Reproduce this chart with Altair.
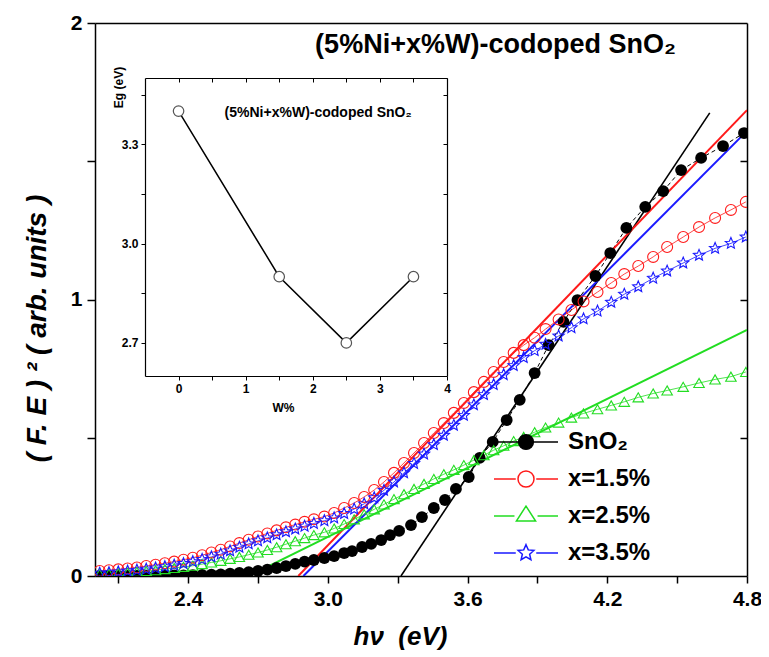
import math
import altair as alt
import pandas as pd

FONT = "Liberation Sans"
NB = "\u00a0"

# ------------------------------------------------------------------ data
series_names = ["SnO₂", "x=1.5%", "x=2.5%", "x=3.5%"]
series_colors = ["#000000", "#ff1a1a", "#22dd22", "#1a1aff"]

sno2_E = [2.02, 2.06, 2.10, 2.14, 2.18, 2.22, 2.26, 2.30, 2.34, 2.38, 2.42, 2.46,
          2.50, 2.54, 2.58, 2.62, 2.66, 2.70, 2.74, 2.78, 2.82, 2.86, 2.90, 2.94,
          2.985, 3.027, 3.070, 3.104, 3.147, 3.186, 3.229, 3.267, 3.306, 3.357,
          3.404, 3.455, 3.503, 3.550, 3.605, 3.652, 3.708, 3.768, 3.824, 3.888,
          3.948, 4.012, 4.072, 4.149, 4.213, 4.282, 4.363, 4.440, 4.517, 4.603,
          4.697, 4.787]
sno2_v = [0.000, 0.000, 0.000, 0.000, 0.000, 0.000, 0.001, 0.001, 0.002, 0.002,
          0.003, 0.004, 0.005, 0.006, 0.008, 0.011, 0.014, 0.018, 0.023, 0.029,
          0.036, 0.044, 0.052, 0.058, 0.065, 0.072, 0.083, 0.090, 0.105, 0.116,
          0.130, 0.148, 0.163, 0.184, 0.213, 0.246, 0.275, 0.315, 0.358, 0.427,
          0.485, 0.564, 0.637, 0.734, 0.835, 0.919, 0.998, 1.085, 1.168, 1.259,
          1.335, 1.392, 1.468, 1.512, 1.555, 1.602]

doped_E = [2.02, 2.06, 2.10, 2.14, 2.18, 2.22, 2.26, 2.30, 2.34, 2.38, 2.42, 2.46,
           2.50, 2.54, 2.58, 2.62, 2.66, 2.70, 2.74, 2.78, 2.82, 2.86, 2.90, 2.94,
           2.985, 3.027, 3.070, 3.113, 3.156, 3.199, 3.241, 3.284, 3.327, 3.370,
           3.413, 3.455, 3.498, 3.541, 3.584, 3.627, 3.670, 3.712, 3.755, 3.798,
           3.841, 3.888, 3.935, 3.991, 4.046, 4.098, 4.158, 4.217, 4.273, 4.333,
           4.397, 4.457, 4.526, 4.594, 4.663, 4.731, 4.795]
x15_v = [0.018, 0.021, 0.024, 0.027, 0.031, 0.036, 0.041, 0.046, 0.052, 0.059,
         0.066, 0.075, 0.085, 0.095, 0.107, 0.119, 0.131, 0.143, 0.154, 0.165,
         0.176, 0.186, 0.196, 0.205, 0.215, 0.228, 0.246, 0.264, 0.286, 0.311,
         0.340, 0.373, 0.409, 0.445, 0.481, 0.517, 0.553, 0.590, 0.626, 0.665,
         0.702, 0.738, 0.774, 0.807, 0.835, 0.862, 0.893, 0.928, 0.962, 0.993,
         1.027, 1.060, 1.092, 1.121, 1.154, 1.190, 1.226, 1.262, 1.295, 1.324,
         1.353]
x25_v = [0.007, 0.008, 0.010, 0.012, 0.015, 0.018, 0.021, 0.025, 0.029, 0.033,
         0.037, 0.043, 0.049, 0.055, 0.062, 0.069, 0.077, 0.085, 0.094, 0.104,
         0.115, 0.126, 0.137, 0.148, 0.158, 0.172, 0.188, 0.205, 0.223, 0.241,
         0.259, 0.278, 0.296, 0.315, 0.333, 0.351, 0.368, 0.384, 0.401, 0.419,
         0.437, 0.455, 0.471, 0.488, 0.503, 0.520, 0.537, 0.555, 0.573, 0.588,
         0.603, 0.617, 0.630, 0.646, 0.660, 0.671, 0.684, 0.698, 0.711, 0.721,
         0.738]
x35_v = [0.010, 0.012, 0.015, 0.018, 0.021, 0.025, 0.029, 0.034, 0.039, 0.045,
         0.052, 0.060, 0.069, 0.079, 0.091, 0.104, 0.116, 0.127, 0.138, 0.149,
         0.160, 0.170, 0.180, 0.190, 0.200, 0.210, 0.226, 0.242, 0.261, 0.283,
         0.310, 0.340, 0.373, 0.407, 0.441, 0.475, 0.509, 0.545, 0.581, 0.619,
         0.656, 0.692, 0.728, 0.761, 0.790, 0.815, 0.838, 0.868, 0.898, 0.930,
         0.958, 0.990, 1.019, 1.046, 1.077, 1.103, 1.132, 1.160, 1.185, 1.203,
         1.226]

# linear fits (Tauc extrapolation): start on the axis, end point
fit_E0 = [3.314, 2.873, 2.660, 2.895]
fit_E1 = [4.640, 4.800, 4.800, 4.800]
fit_v1 = [1.675, 1.685, 0.890, 1.610]

# inset: band gap vs W content
inset_W = [0.0, 1.5, 2.5, 3.5]
inset_Eg = [3.40, 2.90, 2.70, 2.90]

title_text = "(5%Ni+x%W)-codoped SnO₂"
x_title = f"hν{NB}{NB}(eV)"
y_title = f"({NB}F.{NB}E{NB}){NB}²{NB}({NB}arb.{NB}units{NB})"

# ------------------------------------------------------------------ layout
W, H = 652, 553
IN_X0, IN_X1 = 50, 352      # inset frame (pixels inside the plot area)
IN_Y0, IN_Y1 = 55, 353


def df(E, v):
    return pd.DataFrame({"E": E, "v": v})


def star_path(r_out, r_in):
    pts = []
    for k in range(10):
        r = r_out if k % 2 == 0 else r_in
        a = math.radians(-90 + 36 * k)
        pts.append(f"{r * math.cos(a):.3f},{r * math.sin(a):.3f}")
    return "M" + "L".join(pts) + "Z"


STAR = star_path(1.0, 0.45)


def circ(r):
    return f"M{r},0A{r},{r},0,1,1,{-r},0A{r},{r},0,1,1,{r},0Z"


leg_paths = [
    "M-1,0L-0.2,0M0.2,0L1,0" + circ(0.23),
    "M-1,0L-0.32,0M0.32,0L1,0" + circ(0.25),
    "M-1,0L-0.36,0M0.36,0L1,0M0,-0.31L0.3,0.16L-0.3,0.16Z",
    "M-1,0L-0.32,0M0.32,0L1,0" + star_path(0.26, 0.12),
]
leg_fills = ["#000000", "transparent", "transparent", "transparent"]

axis_common = dict(domainColor="black", domainWidth=1.5, tickColor="black",
                   tickWidth=1.5, labelFont=FONT, labelFontWeight="bold",
                   labelColor="black", titleFont=FONT, titleColor="black",
                   grid=False, labelFlush=False, labelOverlap=False)

xs = alt.Scale(domain=[2.0, 4.8], nice=False, zero=False)
ys = alt.Scale(domain=[0, 2], nice=False, zero=False)


def ex(axis=None):
    return alt.X("E:Q", scale=xs, axis=axis)


def ey(axis=None):
    return alt.Y("v:Q", scale=ys, axis=axis)


x_bottom = alt.Axis(
    orient="bottom", values=[2.1, 2.4, 2.7, 3.0, 3.3, 3.6, 3.9, 4.2, 4.5, 4.8],
    labelExpr="round(datum.value*10) % 6 == 0 ? format(datum.value, '.1f') : ''",
    tickSize=7, labelFontSize=21, labelPadding=5,
    title=x_title, titleFontSize=26, titleFontWeight="bold",
    titleFontStyle="italic", titleX=305, titleY=68, titleBaseline="alphabetic",
    **axis_common)
y_left = alt.Axis(
    orient="left", values=[0, 0.5, 1, 1.5, 2],
    labelExpr="datum.value == round(datum.value) ? format(datum.value, 'd') : ''",
    tickSize=8, labelFontSize=21, labelPadding=5,
    title=y_title, titleFontSize=28, titleFontWeight="bold",
    titleFontStyle="italic", titleX=-58, titleY=305, titleAngle=-90,
    titleAlign="center", titleBaseline="middle", **axis_common)
x_top = alt.Axis(orient="top", ticks=False, labels=False, title=None,
                 domainColor="black", domainWidth=1.5, grid=False)
y_right = alt.Axis(orient="left", offset=-W, values=[0.5, 1, 1.5], labels=False,
                   tickSize=7, title=None, **axis_common)

# fits
fit_rows = []
for name, e0, e1, v1 in zip(series_names, fit_E0, fit_E1, fit_v1):
    fit_rows.append({"series": name, "E": e0, "v": 0.0})
    fit_rows.append({"series": name, "E": e1, "v": v1})
fit_df = pd.DataFrame(fit_rows)

layers = []
# base layer with bottom/left axes: SnO2 dashed connecting line
layers.append(alt.Chart(df(sno2_E, sno2_v)).mark_line(
    color="black", strokeWidth=1, strokeDash=[4, 3], clip=True
).encode(x=ex(x_bottom), y=ey(y_left)))
# frame layer (top + right axes), draws no marks
layers.append(alt.Chart(df(sno2_E, sno2_v)).transform_filter("false").mark_point(
).encode(x=ex(x_top), y=ey(y_right)))

# fit lines
for name, col in zip(series_names, series_colors):
    layers.append(alt.Chart(fit_df).transform_filter(
        alt.datum.series == name).mark_line(
        color=col, strokeWidth=1.6 if name == series_names[0] else 2, clip=True
    ).encode(x=ex(), y=ey()))

# connecting lines of the doped series
for vals, col in [(x25_v, series_colors[2]), (x15_v, series_colors[1]),
                  (x35_v, series_colors[3])]:
    layers.append(alt.Chart(df(doped_E, vals)).mark_line(
        color=col, strokeWidth=0.8, clip=True).encode(x=ex(), y=ey()))

# markers
layers.append(alt.Chart(df(sno2_E, sno2_v)).mark_point(
    shape="circle", filled=True, color="black", size=140, opacity=1, clip=True
).encode(x=ex(), y=ey()))
layers.append(alt.Chart(df(doped_E, x25_v)).mark_point(
    shape="triangle-up", filled=False, color=series_colors[2], size=110,
    strokeWidth=1.1, opacity=1, clip=True).encode(x=ex(), y=ey()))
layers.append(alt.Chart(df(doped_E, x15_v)).mark_point(
    shape="circle", filled=False, color=series_colors[1], size=120,
    strokeWidth=1.1, opacity=1, clip=True).encode(x=ex(), y=ey()))
layers.append(alt.Chart(df(doped_E, x35_v)).mark_point(
    shape=STAR, filled=False, color=series_colors[3], size=140,
    strokeWidth=1.1, opacity=1, clip=True).encode(x=ex(), y=ey()))

# legend (drawn from an empty layer, symbols are line-marker-line paths)
legend = alt.Legend(title=None, orient="none", legendX=398, legendY=407,
                    symbolSize=4096, symbolStrokeWidth=1.5, labelFont=FONT,
                    labelFontSize=24, labelFontWeight="bold", labelColor="black",
                    labelOffset=9, clipHeight=24, rowPadding=13, padding=0)
leg_df = pd.DataFrame({"series": series_names})
layers.append(alt.Chart(leg_df).transform_filter("false").mark_point(
    opacity=1, strokeWidth=1.5).encode(
    shape=alt.Shape("series:N", scale=alt.Scale(domain=series_names, range=leg_paths),
                    legend=legend),
    stroke=alt.Stroke("series:N", scale=alt.Scale(domain=series_names, range=series_colors),
                      legend=legend),
    fill=alt.Fill("series:N", scale=alt.Scale(domain=series_names, range=leg_fills),
                  legend=legend),
))

# main title, placed in data space
layers.append(alt.Chart(pd.DataFrame({"t": [title_text]})).mark_text(
    font=FONT, fontSize=27, fontWeight="bold", color="black",
    align="center", baseline="middle").encode(
    x=alt.X(datum=3.72, type="quantitative", scale=xs, axis=None),
    y=alt.Y(datum=1.92, type="quantitative", scale=ys, axis=None),
    text="t:N"))

main = alt.layer(*layers).resolve_axis(x="independent", y="independent")

# ------------------------------------------------------------------ inset
ixs = alt.Scale(domain=[-0.5, 4], range=[IN_X0, IN_X1], nice=False, zero=False)
iys = alt.Scale(domain=[2.6, 3.5], range=[IN_Y1, IN_Y0], nice=False, zero=False)
in_common = dict(domainColor="black", domainWidth=1.2, tickColor="black",
                 tickWidth=1, labelFont=FONT, labelFontWeight="bold",
                 labelColor="black", titleFont=FONT, titleColor="black",
                 grid=False, labelFlush=False, labelOverlap=False)
ix_vals = [0, 0.5, 1, 1.5, 2, 2.5, 3, 3.5, 4]
iy_vals = [2.7, 2.85, 3.0, 3.15, 3.3, 3.45]
ix_bottom = alt.Axis(
    orient="bottom", offset=-(H - IN_Y1), values=ix_vals,
    labelExpr="datum.value == round(datum.value) ? format(datum.value, 'd') : ''",
    tickSize=4, labelFontSize=12, labelPadding=3, title="W%", titleFontSize=12,
    titleFontWeight="bold", titleX=188, titleY=31, titleBaseline="middle", **in_common)
iy_left = alt.Axis(
    orient="left", offset=-IN_X0, values=iy_vals,
    labelExpr="abs(datum.value*10 - round(datum.value*10)) < 0.01 ? format(datum.value, '.1f') : ''",
    tickSize=4, labelFontSize=12, labelPadding=3, title="Eg (eV)", titleFontSize=12,
    titleFontWeight="bold", titleX=-27, titleY=64, titleAngle=-90,
    titleAlign="center", titleBaseline="middle", **in_common)
ix_top = alt.Axis(orient="bottom", offset=-(H - IN_Y0), values=ix_vals, labels=False,
                  tickSize=4, title=None, **in_common)
iy_right = alt.Axis(orient="left", offset=-IN_X1, values=iy_vals, labels=False,
                    tickSize=4, title=None, **in_common)

inset_df = pd.DataFrame({"W": inset_W, "Eg": inset_Eg})
inset_layers = [
    alt.Chart(inset_df).mark_line(color="black", strokeWidth=1.5).encode(
        x=alt.X("W:Q", scale=ixs, axis=ix_bottom),
        y=alt.Y("Eg:Q", scale=iys, axis=iy_left)),
    alt.Chart(inset_df).transform_filter("false").mark_point().encode(
        x=alt.X("W:Q", scale=ixs, axis=ix_top),
        y=alt.Y("Eg:Q", scale=iys, axis=iy_right)),
    alt.Chart(inset_df).mark_point(shape="circle", filled=True, fill="white",
                                   stroke="#555555", strokeWidth=1.2, size=110,
                                   opacity=1).encode(
        x=alt.X("W:Q", scale=ixs, axis=None),
        y=alt.Y("Eg:Q", scale=iys, axis=None)),
    alt.Chart(pd.DataFrame({"t": [title_text]})).mark_text(
        font=FONT, fontSize=14, fontWeight="bold", color="black",
        align="center", baseline="middle").encode(
        x=alt.X(datum=2.08, type="quantitative", scale=ixs, axis=None),
        y=alt.Y(datum=3.394, type="quantitative", scale=iys, axis=None),
        text="t:N"),
]
inset = alt.layer(*inset_layers).resolve_axis(x="independent", y="independent")

chart = alt.layer(main, inset).resolve_scale(
    x="independent", y="independent"
).properties(
    width=W, height=H,
    autosize=alt.AutoSizeParams(type="none"),
    padding={"left": 87, "top": 15, "right": 14, "bottom": 75},
    background="white",
).configure_view(stroke=None)

chart.save("out.html", embed_options={"renderer": "svg", "actions": False})
